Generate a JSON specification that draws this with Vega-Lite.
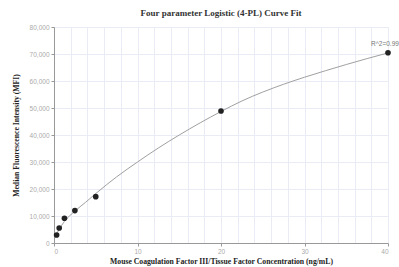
{
  "$schema": "https://vega.github.io/schema/vega-lite/v6.json",
  "autosize": {"type": "none"},
  "width": 334,
  "height": 216,
  "padding": {"left": 54, "top": 27, "right": 11, "bottom": 24},
  "background": "white",
  "title": {
    "text": "Four parameter Logistic (4-PL) Curve Fit",
    "font": "Liberation Serif",
    "fontSize": 9,
    "fontWeight": "bold",
    "color": "#333333",
    "anchor": "middle",
    "offset": 6
  },
  "datasets": {
    "points": [
      {"conc": 0.3125, "mfi": 2963},
      {"conc": 0.625, "mfi": 5555},
      {"conc": 1.25, "mfi": 9150},
      {"conc": 2.5, "mfi": 12000},
      {"conc": 5, "mfi": 17150},
      {"conc": 20, "mfi": 48900},
      {"conc": 40, "mfi": 70480}
    ],
    "curve": [
      {"conc": 0.3125, "mfi": 3400},
      {"conc": 0.625, "mfi": 5100},
      {"conc": 1.25, "mfi": 8000},
      {"conc": 2.5, "mfi": 11800},
      {"conc": 3.75, "mfi": 15000},
      {"conc": 5, "mfi": 18300},
      {"conc": 7.5, "mfi": 24500},
      {"conc": 10, "mfi": 30000},
      {"conc": 12.5, "mfi": 35200},
      {"conc": 15, "mfi": 40000},
      {"conc": 17.5, "mfi": 44500},
      {"conc": 20, "mfi": 48700},
      {"conc": 22.5, "mfi": 52600},
      {"conc": 25, "mfi": 55900},
      {"conc": 27.5, "mfi": 58800},
      {"conc": 30, "mfi": 61400},
      {"conc": 32.5, "mfi": 63800},
      {"conc": 35, "mfi": 66100},
      {"conc": 37.5, "mfi": 68300},
      {"conc": 40, "mfi": 70400}
    ],
    "label": [
      {"conc": 40, "mfi": 70480, "text": "R^2=0.99"}
    ]
  },
  "config": {
    "view": {"stroke": null},
    "axis": {
      "labelFont": "Liberation Sans",
      "labelFontSize": 6.5,
      "labelColor": "#aaaaaa",
      "titleFont": "Liberation Serif",
      "titleFontSize": 7.7,
      "titleFontWeight": "bold",
      "titleColor": "#222222",
      "domainColor": "#999999",
      "tickColor": "#999999",
      "tickSize": 3,
      "gridColor": "#e9ebf5",
      "gridWidth": 1
    }
  },
  "encoding": {
    "x": {
      "field": "conc",
      "type": "quantitative",
      "scale": {"domain": [0, 40], "nice": false},
      "axis": {
        "title": "Mouse Coagulation Factor III/Tissue Factor Concentration (ng/mL)",
        "values": [0, 2, 4, 6, 8, 10, 12, 14, 16, 18, 20, 22, 24, 26, 28, 30, 32, 34, 36, 38, 40],
        "labelExpr": "datum.value % 10 === 0 ? datum.label : ''",
        "tickOpacity": {"condition": {"test": "datum.value % 10 === 0", "value": 1}, "value": 0},
        "labelPadding": 2,
        "titlePadding": 3
      }
    },
    "y": {
      "field": "mfi",
      "type": "quantitative",
      "scale": {"domain": [0, 80000], "nice": false},
      "axis": {
        "title": "Median Fluorescence Intensity (MFI)",
        "values": [0, 10000, 20000, 30000, 40000, 50000, 60000, 70000, 80000],
        "format": ",.0f",
        "labelPadding": 2,
        "titlePadding": 9
      }
    }
  },
  "layer": [
    {
      "data": {"name": "curve"},
      "mark": {"type": "line", "color": "#a0a0a0", "strokeWidth": 1, "interpolate": "monotone"}
    },
    {
      "data": {"name": "points"},
      "mark": {"type": "point", "filled": true, "color": "#222222", "size": 32, "opacity": 1}
    },
    {
      "data": {"name": "label"},
      "mark": {"type": "text", "font": "Liberation Sans", "fontSize": 6.5, "color": "#777777", "align": "center", "dx": -3, "dy": -9},
      "encoding": {
        "text": {"field": "text"}
      }
    }
  ]
}
